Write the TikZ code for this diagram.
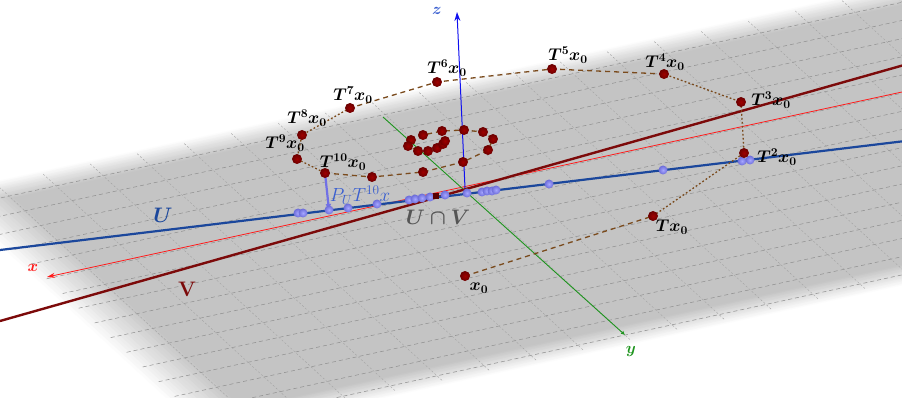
\RequirePackage{fix-cm}
\documentclass[tikz,border=0pt]{standalone}
\usepackage{amsmath,bm}
\usetikzlibrary{arrows.meta}
\definecolor{ured}{HTML}{7C0A0A}
\definecolor{ublue}{HTML}{1B479C}
\definecolor{ptred}{HTML}{8A0000}
\definecolor{pathbrown}{HTML}{7A4A1C}
\definecolor{projblue}{HTML}{7070E6}
\definecolor{lblblue}{HTML}{3A5FD0}
\definecolor{axred}{HTML}{FF1A1A}
\definecolor{axgreen}{HTML}{1E941E}
\definecolor{axblue}{HTML}{1010F0}
\definecolor{capgray}{HTML}{555555}
\definecolor{gridA}{HTML}{8E8E8E}
\definecolor{gridB}{HTML}{A2A2A2}
\begin{document}
\begin{tikzpicture}[x=1pt,y=-1pt,
  rpt/.style={circle,inner sep=0,minimum size=10pt,inner color=red!62!black,outer color=red!42!black},
  bpt/.style={circle,inner sep=0,minimum size=9pt,inner color=blue!35!white,outer color=blue!50!white!85!black},
  longdash/.style={pathbrown,line width=1.3pt,dash pattern=on 5pt off 4pt},
  shortdash/.style={pathbrown,line width=1.3pt,dash pattern=on 1.8pt off 2.2pt},
  lab/.style={inner sep=0,font=\fontsize{17}{20}\selectfont},
  biglab/.style={inner sep=0,font=\fontsize{21}{25}\selectfont},
  axlab/.style={inner sep=0,font=\fontsize{16}{19}\selectfont}]
\useasboundingbox (0,0) rectangle (902,398);
\clip (0,0) rectangle (902,398);
% plane with soft edges and grid
\begin{scope}[shift={(465,188)},x={(-47pt,-10.2pt)},y={(16pt,-14.7pt)}]
  \foreach \i in {0,...,16}{
    \pgfmathsetmacro\d{-0.65+0.075*\i}
    \pgfmathtruncatemacro\k{round(23*\i/16)}
    \fill[black!\k] (8.5-\d,-5.4+\d) -- (8.5-\d,10-\d) -- (-14,10-\d) -- (-14,-5.4+\d) -- cycle;
  }
  \foreach \yy in {-5,...,10}
    \draw[gridA,line width=0.5pt,dash pattern=on 4pt off 3pt] (8.9,\yy) -- (-14,\yy);
  \foreach \xx in {-14,...,8}
    \draw[gridB,line width=0.4pt,dash pattern=on 2pt off 2pt] (\xx,-5.8) -- (\xx,10.4);
\end{scope}
% axes and lines
\coordinate (xs) at (902,92);
\coordinate (xe) at (47,277);
\coordinate (ys) at (383,117);
\coordinate (ye) at (625,335);
\coordinate (zs) at (465,188);
\coordinate (ze) at (457,12);
\coordinate (us) at (0,250);
\coordinate (ue) at (902,141.4);
\coordinate (vs) at (0,321);
\coordinate (ve) at (902,65.6);
\draw[axred,line width=0.8pt,-{Stealth[length=8pt,width=5pt]}] (xs) -- (xe);
\draw[axgreen,line width=0.9pt,-{Latex[length=4pt,width=4pt]}] (ys) -- (ye);
\draw[ured,line width=2.4pt] (vs) -- (ve);
\draw[ublue,line width=2.2pt] (us) -- (ue);
\draw[axblue,line width=1pt,-{Stealth[length=9pt,width=6pt]}] (zs) -- (ze);
\node[axlab,text=axred] (lx) at (33,268) {$\bm{x}$};
\node[axlab,text=axgreen] (ly) at (631,351) {$\bm{y}$};
\node[axlab,text=lblblue] (lz) at (437,11) {$\bm{z}$};
% orbit points
\coordinate (p0) at (465,276);
\coordinate (p1) at (653,216);
\coordinate (p2) at (744,153);
\coordinate (p3) at (741,102);
\coordinate (p4) at (664,74);
\coordinate (p5) at (552,69);
\coordinate (p6) at (437,82);
\coordinate (p7) at (350,108);
\coordinate (p8) at (302,135);
\coordinate (p9) at (297,159);
\coordinate (p10) at (325,173);
\coordinate (p11) at (372,177);
\coordinate (p12) at (423,172);
\coordinate (p13) at (463,162);
\coordinate (p14) at (488,150);
\coordinate (p15) at (493,139);
\coordinate (p16) at (483,132);
\coordinate (p17) at (464,130);
\coordinate (p18) at (442,131);
\coordinate (p19) at (423,135);
\coordinate (p20) at (411,140);
\coordinate (p21) at (408,146);
\coordinate (p22) at (418,151);
\coordinate (p23) at (428,151);
\coordinate (p24) at (437,148);
\coordinate (p25) at (443,144);
\coordinate (p26) at (445,141);
\draw[longdash] (p0) -- (p1);
\draw[shortdash] (p1) -- (p2) -- (p3) -- (p4);
\draw[longdash] (p4) -- (p5) -- (p6) -- (p7);
\draw[shortdash] (p7) -- (p8) -- (p9) -- (p10);
\draw[longdash] (p10) -- (p11) -- (p12) -- (p13) -- (p14) -- (p15) -- (p16) -- (p17) -- (p18) -- (p19) -- (p20);
\draw[shortdash] (p20) -- (p21) -- (p22) -- (p23) -- (p24) -- (p25) -- (p26);
% projection onto U
\coordinate (q) at (329,210);
\draw[projblue,line width=2.2pt,-{Latex[length=6pt,width=6pt]}] (p10) -- (q);
% points on U
\foreach \px/\py [count=\n] in {298/213,303/213,329/210,348/208,377/204,409/200,415/199,422/198,430/197,445/195,467/193,482/192,487/191,492/191,496/190,549/184,663/170,742/161,750/160}
  \node[bpt] (u\n) at (\px,\py) {};
\node[fill=black!65!red,inner sep=0,minimum size=6pt] (cap) at (436,196) {};
% red orbit balls
\foreach \i in {0,...,26}
  \node[rpt] (b\i) at (p\i) {};
% labels
\node[lab] (l0) at (479,288) {$\bm{x_0}$};
\node[lab] (l1) at (672,227) {$\bm{Tx_0}$};
\node[lab] (l2) at (777,157) {$\bm{T^2x_0}$};
\node[lab] (l3) at (771,100) {$\bm{T^3x_0}$};
\node[lab] (l4) at (665,62) {$\bm{T^4x_0}$};
\node[lab] (l5) at (568,55) {$\bm{T^5x_0}$};
\node[lab] (l6) at (447,68) {$\bm{T^6x_0}$};
\node[lab] (l7) at (353,95) {$\bm{T^7x_0}$};
\node[lab] (l8) at (307,118) {$\bm{T^8x_0}$};
\node[lab] (l9) at (285,143) {$\bm{T^9x_0}$};
\node[lab] (l10) at (343,162) {$\bm{T^{10}x_0}$};
\node[inner sep=0,font=\fontsize{19}{22}\selectfont,text=lblblue] (lp) at (360,195) {$P_UT^{10}x$};
\node[biglab,text=ublue] (lu) at (163,215) {$\bm{U}$};
\node[biglab,text=ured] (lv) at (187,289) {\textbf{V}};
\node[biglab,text=capgray] (luv) at (438,217) {$\bm{U\cap V}$};
\end{tikzpicture}
\end{document}
